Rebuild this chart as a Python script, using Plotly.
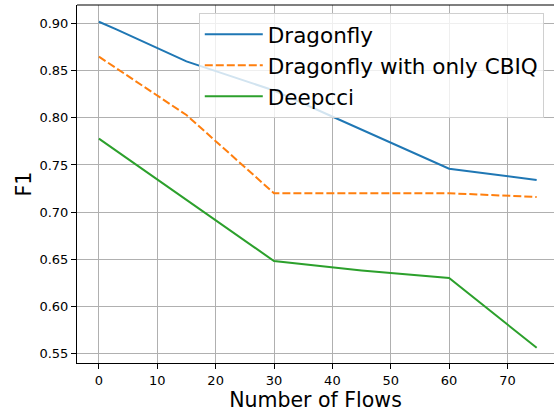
import plotly.graph_objects as go

x_dragonfly = [0, 3, 15, 30, 60, 75]
y_dragonfly = [0.902, 0.894, 0.860, 0.829, 0.746, 0.734]

x_cbiq = [0, 15, 30, 60, 75]
y_cbiq = [0.865, 0.803, 0.720, 0.720, 0.716]

x_deepcci = [0, 12, 30, 45, 60, 75]
y_deepcci = [0.778, 0.726, 0.648, 0.638, 0.630, 0.556]

x_ticks = [0, 10, 20, 30, 40, 50, 60, 70]
y_ticks = [0.55, 0.60, 0.65, 0.70, 0.75, 0.80, 0.85, 0.90]
y_tick_labels = ["0.55", "0.60", "0.65", "0.70", "0.75", "0.80", "0.85", "0.90"]

FONT = "DejaVu Sans"

fig = go.Figure()
fig.add_trace(go.Scatter(x=x_dragonfly, y=y_dragonfly, mode="lines", name="Dragonfly",
                         line=dict(color="#1f77b4", width=2)))
fig.add_trace(go.Scatter(x=x_cbiq, y=y_cbiq, mode="lines", name="Dragonfly with only CBIQ",
                         line=dict(color="#ff7f0e", width=2, dash="8px,3px")))
fig.add_trace(go.Scatter(x=x_deepcci, y=y_deepcci, mode="lines", name="Deepcci",
                         line=dict(color="#2ca02c", width=2)))

fig.update_layout(
    width=554, height=413,
    margin=dict(l=77, r=0, t=5, b=50, autoexpand=False),
    paper_bgcolor="white", plot_bgcolor="white",
    font=dict(family=FONT, color="black"),
    showlegend=True,
    legend=dict(x=0.2553, y=0.978, xanchor="left", yanchor="top", itemwidth=58,
                bgcolor="rgba(255,255,255,0.8)", bordercolor="#d0d0d0", borderwidth=1,
                font=dict(family=FONT, size=21.5, color="black")),
    xaxis=dict(range=[-3.75, 77.97], tickvals=x_ticks, showgrid=True, gridcolor="#b0b0b0",
               gridwidth=1.1, zeroline=False, showline=True, linecolor="black", linewidth=1.1,
               ticks="outside", ticklen=5, tickwidth=1.1, tickcolor="black", automargin=False,
               tickfont=dict(family=FONT, size=13),
               title=dict(text="Number of Flows", font=dict(family=FONT, size=20.5), standoff=4)),
    yaxis=dict(range=[0.5398, 0.9198], tickvals=y_ticks, ticktext=y_tick_labels, showgrid=True,
               gridcolor="#b0b0b0", gridwidth=1.1, zeroline=False, showline=True,
               linecolor="black", linewidth=1.1, ticks="outside", ticklen=5, tickwidth=1.1,
               tickcolor="black", automargin=False, tickfont=dict(family=FONT, size=13),
               title=dict(text="F1", font=dict(family=FONT, size=20.5), standoff=2)),
    shapes=[dict(type="line", xref="paper", yref="paper", x0=0, x1=1, y0=1, y1=1,
                 line=dict(color="black", width=1.1))],
)

fig.write_html("out.html", config={"displayModeBar": False},
               post_script="document.body.style.margin='0';document.body.style.padding='0';")
